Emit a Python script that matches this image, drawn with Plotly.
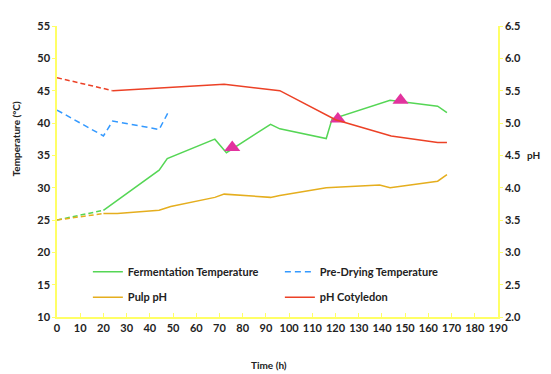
import plotly.graph_objects as go

# ---- data ----
ferm_dash_x = [0, 20]
ferm_dash_t = [25, 26.5]
ferm_x = [20, 44, 47.5, 68, 73, 92, 96, 116, 118.5, 140.5, 143.5, 164, 168]
ferm_t = [26.5, 32.7, 34.5, 37.5, 35.4, 39.8, 39.1, 37.6, 40.6, 43.25, 43.5, 42.6, 41.6]

predry_x = [0, 20, 24, 44, 48]
predry_t = [42, 38, 40.3, 39, 41.7]

pulp_dash_x = [0, 20]
pulp_dash_ph = [3.5, 3.6]
pulp_x = [20, 26, 44, 49, 68, 72, 92, 96, 116, 139, 143.5, 164, 168]
pulp_ph = [3.6, 3.6, 3.65, 3.71, 3.85, 3.9, 3.85, 3.88, 4.0, 4.04, 4.0, 4.1, 4.2]

cot_dash_x = [0, 24]
cot_dash_ph = [5.7, 5.5]
cot_x = [24, 72, 96, 120, 144, 164, 168]
cot_ph = [5.5, 5.6, 5.5, 5.05, 4.8, 4.7, 4.7]

tri_x = [75.5, 121, 148]
tri_t = [36.2, 40.6, 43.5]

x_ticks = list(range(0, 200, 10))
left_ticks = list(range(10, 60, 5))
right_ticks = [2.0, 2.5, 3.0, 3.5, 4.0, 4.5, 5.0, 5.5, 6.0, 6.5]

GREEN = "#55D655"
BLUE = "#3399FF"
GOLD = "#E5AE1E"
RED = "#EC4126"
MAG = "#E2339E"
YEL = "#FFFF66"
FONT = "Lato"

fig = go.Figure()
fig.add_trace(go.Scatter(x=ferm_dash_x, y=ferm_dash_t, mode="lines",
                         line=dict(color=GREEN, width=1.5, dash="5px,3px"), showlegend=False))
fig.add_trace(go.Scatter(x=pulp_dash_x, y=pulp_dash_ph, yaxis="y2", mode="lines",
                         line=dict(color=GOLD, width=1.5, dash="5px,3px"), showlegend=False))
fig.add_trace(go.Scatter(x=cot_dash_x, y=cot_dash_ph, yaxis="y2", mode="lines",
                         line=dict(color=RED, width=1.5, dash="5px,3px"), showlegend=False))

fig.add_trace(go.Scatter(x=ferm_x, y=ferm_t, mode="lines", name="Fermentation Temperature",
                         line=dict(color=GREEN, width=1.5), legend="legend"))
fig.add_trace(go.Scatter(x=predry_x, y=predry_t, mode="lines", name="Pre-Drying Temperature",
                         line=dict(color=BLUE, width=1.5, dash="6px,4px"), legend="legend"))
fig.add_trace(go.Scatter(x=pulp_x, y=pulp_ph, yaxis="y2", mode="lines", name="Pulp pH",
                         line=dict(color=GOLD, width=1.5), legend="legend2"))
fig.add_trace(go.Scatter(x=cot_x, y=cot_ph, yaxis="y2", mode="lines", name="pH Cotyledon",
                         line=dict(color=RED, width=1.5), legend="legend2"))
fig.add_trace(go.Scatter(x=tri_x, y=tri_t, mode="markers", showlegend=False,
                         marker=dict(symbol="triangle-up", size=14, color=MAG)))

tickfont = dict(family=FONT, size=11, color="#222222", weight="bold")
legfont = dict(family=FONT, size=11, color="#222222", weight="bold")
titlefont = dict(family=FONT, size=10, color="#222222", weight="bold")

fig.update_layout(
    width=551, height=374,
    margin=dict(l=49, r=61, t=11, b=65),
    paper_bgcolor="white", plot_bgcolor="white",
    xaxis=dict(range=[0, 190], tickvals=x_ticks, ticks="inside", ticklen=4, tickcolor=YEL,
               showline=True, linecolor=YEL, linewidth=1.5, showgrid=False, zeroline=False,
               tickfont=tickfont),
    yaxis=dict(range=[10, 55], tickvals=left_ticks, ticks="outside", ticklen=3, tickcolor=YEL,
               showline=True, linecolor=YEL, linewidth=1.5, showgrid=False, zeroline=False,
               tickfont=tickfont),
    yaxis2=dict(range=[2, 6.5], tickvals=right_ticks, tickformat=".1f", overlaying="y", side="right",
                ticks="outside", ticklen=3, tickcolor=YEL, showline=True, linecolor=YEL, linewidth=1.5,
                showgrid=False, zeroline=False, tickfont=tickfont),
    legend=dict(orientation="h", x=0.07, y=0.205, xanchor="left", yanchor="top",
                entrywidth=147, font=legfont, bgcolor="rgba(0,0,0,0)"),
    legend2=dict(orientation="h", x=0.07, y=0.118, xanchor="left", yanchor="top",
                 entrywidth=147, font=legfont, bgcolor="rgba(0,0,0,0)"),
    annotations=[
        dict(text="Temperature (°C)", xref="paper", yref="paper", x=0, y=0.61, xanchor="center",
             xshift=-41, textangle=-90, showarrow=False, font=titlefont),
        dict(text="pH", xref="paper", yref="paper", x=1, y=0.555, xanchor="center", xshift=35,
             showarrow=False, font=titlefont),
        dict(text="Time (h)", xref="paper", yref="paper", x=0.48, y=0, xanchor="center", yshift=-56,
             showarrow=False, font=titlefont),
    ],
)

fig.write_html("out.html")
